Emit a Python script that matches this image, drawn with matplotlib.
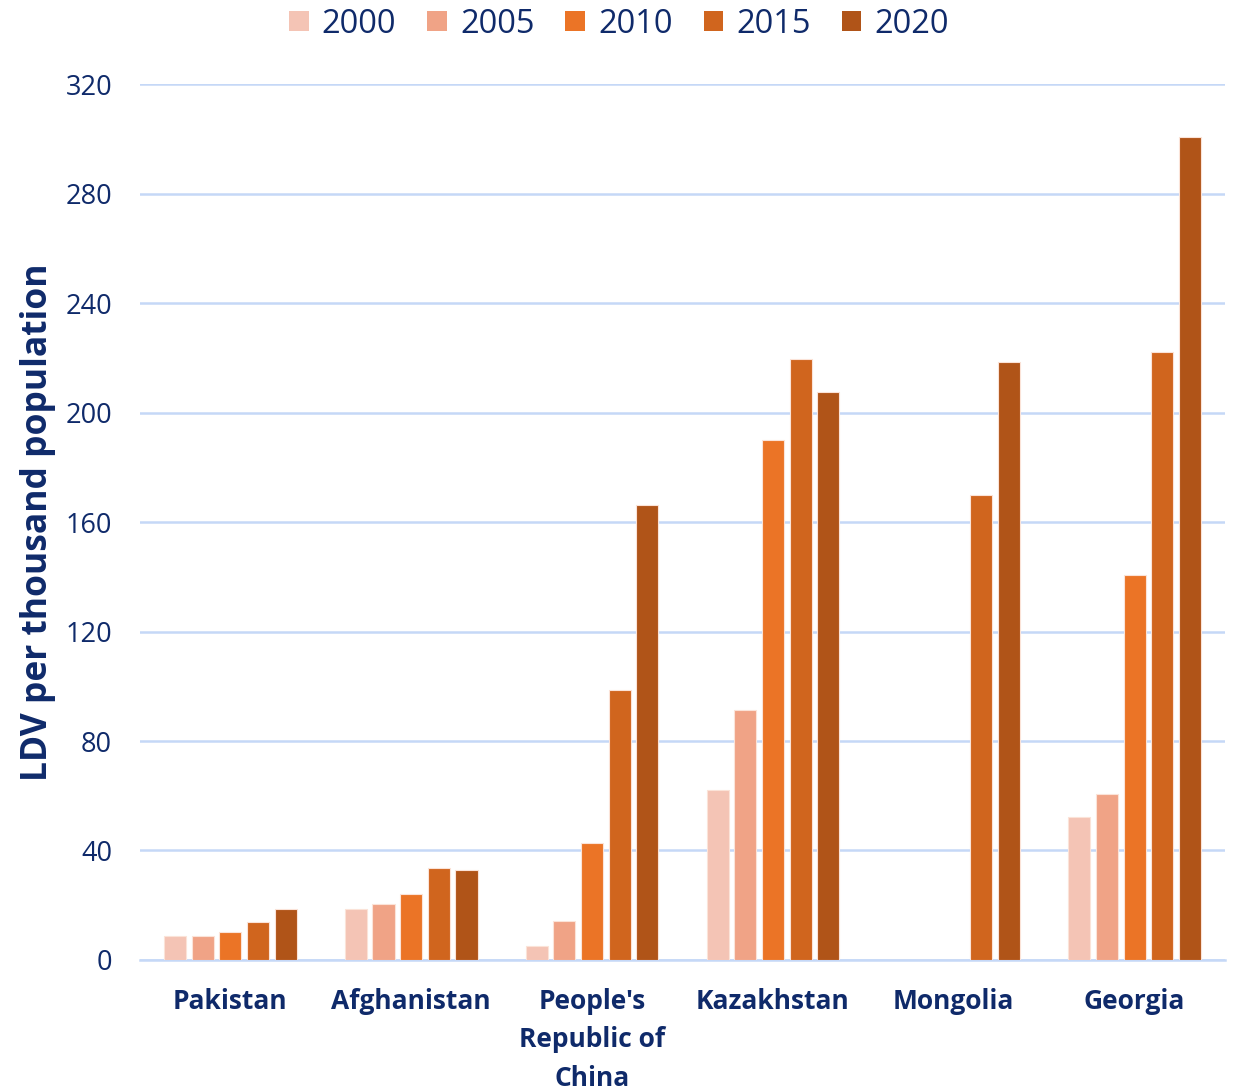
import numpy as np
import matplotlib.pyplot as plt

# Data
countries = ["Pakistan", "Afghanistan", "People's\nRepublic of\nChina", "Kazakhstan", "Mongolia", "Georgia"]
years = ["2000", "2005", "2010", "2015", "2020"]
v2000 = [8.8, 18.6, 5.1, 62.1, 0, 52.2]
v2005 = [8.8, 20.5, 14.2, 91.3, 0, 60.6]
v2010 = [10.2, 24.1, 42.7, 190.0, 0, 140.6]
v2015 = [13.9, 33.6, 98.6, 219.5, 169.9, 222.1]
v2020 = [18.6, 32.9, 166.2, 207.5, 218.4, 300.6]
series = [v2000, v2005, v2010, v2015, v2020]
colors = ["#F4C4B5", "#F0A386", "#EB7426", "#D0651E", "#B05418"]

text_color = "#0F2A6A"
grid_color = "#C5D8F7"

plt.rcParams['font.family'] = ['Open Sans', 'DejaVu Sans']

fig = plt.figure(figsize=(12.38, 10.92), dpi=100)
ax = fig.add_axes([0.113, 0.1209, 0.8765, 0.8021])

x = np.arange(len(countries))
step = 0.153
width = 0.122
for i, (vals, col, yr) in enumerate(zip(series, colors, years)):
    ax.bar(x + (i - 2) * step, vals, width, color=col, label=yr,
           edgecolor="#FBE3D8", linewidth=0.8, zorder=3)

ax.set_xlim(-0.5, len(countries) - 0.5)
ax.set_ylim(0, 320)
ax.set_yticks(np.arange(0, 321, 40))
ax.yaxis.grid(True, color=grid_color, linewidth=1.8, zorder=0)
ax.set_axisbelow(True)
for s in ["top", "right", "left"]:
    ax.spines[s].set_visible(False)
ax.spines["bottom"].set_color(grid_color)
ax.spines["bottom"].set_linewidth(1.8)
ax.tick_params(axis="both", length=0)
ax.tick_params(axis="y", labelsize=19.5, labelcolor=text_color, pad=20)
ax.set_xticks(x)
ax.set_xticklabels(countries, fontsize=19, fontweight="bold", color=text_color,
                   linespacing=1.55)
ax.tick_params(axis="x", pad=20)

ax.set_ylabel("LDV per thousand population", fontsize=25.5, fontweight="bold",
              color=text_color)
ax.yaxis.set_label_coords(-0.077, 0.5)

leg = fig.legend(loc="upper center", bbox_to_anchor=(0.5, 1.02), ncol=5,
                 frameon=False, fontsize=23.5, handlelength=0.6, handleheight=0.6,
                 handletextpad=0.4, columnspacing=0.95)
for t in leg.get_texts():
    t.set_color(text_color)
for h in leg.legend_handles:
    h.set_linewidth(0)

fig.savefig("out.png", dpi=100)
